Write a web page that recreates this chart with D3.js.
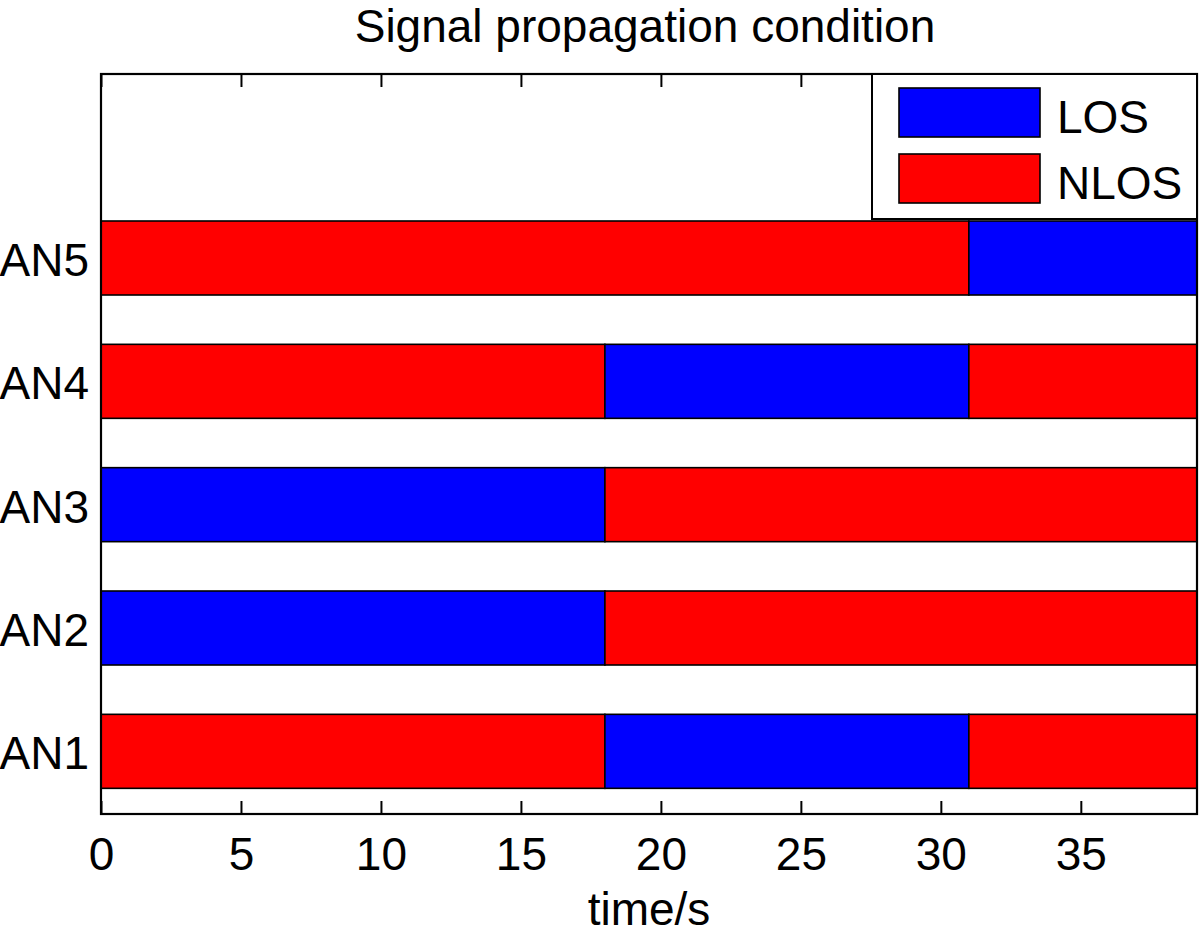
<!DOCTYPE html>
<html>
<head>
<meta charset="utf-8">
<script src="https://cdn.jsdelivr.net/npm/d3@7"></script>
<style>
  html, body { margin: 0; padding: 0; background: #fff; }
  text { font-family: "Liberation Sans", Arial, Helvetica, sans-serif; fill: #000; }
</style>
</head>
<body>
<svg id="chart" width="1200" height="936"></svg>
<script>
// ---- data ----
const nodes = ["AN1", "AN2", "AN3", "AN4", "AN5"];
const segmentStarts = [[0, 18, 31], [0, 18], [0, 18], [0, 18, 31], [0, 31]];
const segmentStates = [["NLOS", "LOS", "NLOS"], ["LOS", "NLOS"], ["LOS", "NLOS"], ["NLOS", "LOS", "NLOS"], ["NLOS", "LOS"]];
const endTime = 39.15;
const xTicks = [0, 5, 10, 15, 20, 25, 30, 35];
const legendLabels = ["LOS", "NLOS"];
const stateColors = { LOS: "#0000ff", NLOS: "#ff0000" };

// ---- layout ----
const L = 101, R = 1197, T = 74, B = 814;
const svg = d3.select("#chart");

const x = d3.scaleLinear().domain([0, endTime]).range([L, R]);
const y = d3.scaleLinear().domain([0.5, 6.5]).range([B, T]);
const barH = 0.6;

// segments
const segs = [];
nodes.forEach((n, i) => {
  const starts = segmentStarts[i];
  starts.forEach((s, j) => {
    const e = j + 1 < starts.length ? starts[j + 1] : endTime;
    segs.push({ idx: i + 1, start: s, end: e, state: segmentStates[i][j] });
  });
});

svg.append("g").selectAll("rect").data(segs).join("rect")
  .attr("x", d => x(d.start))
  .attr("y", d => y(d.idx + barH / 2) - 1)
  .attr("width", d => x(d.end) - x(d.start))
  .attr("height", d => y(d.idx - barH / 2) - y(d.idx + barH / 2))
  .attr("fill", d => stateColors[d.state])
  .attr("stroke", "#000")
  .attr("stroke-width", 1.6);

// axes
const fs = 46;
const xAxis = svg.append("g").attr("transform", `translate(0,${B})`)
  .call(d3.axisBottom(x).tickValues(xTicks).tickSize(-13).tickPadding(0).tickFormat(d3.format("d")));
xAxis.select(".domain").remove();
xAxis.selectAll("line").attr("stroke", "#000").attr("stroke-width", 2);
xAxis.selectAll("text").attr("font-size", fs).attr("dy", null).attr("y", 56);

const xTop = svg.append("g").attr("transform", `translate(0,${T})`)
  .call(d3.axisTop(x).tickValues(xTicks).tickSize(-13).tickFormat(""));
xTop.select(".domain").remove();
xTop.selectAll("line").attr("stroke", "#000").attr("stroke-width", 2);

const yAxis = svg.append("g").attr("transform", `translate(${L},0)`)
  .call(d3.axisLeft(y).tickValues(d3.range(1, nodes.length + 1)).tickSize(0).tickPadding(12)
    .tickFormat(d => nodes[d - 1]));
yAxis.select(".domain").remove();
yAxis.selectAll("text").attr("font-size", fs).attr("dy", "0.36em");

// frame
svg.append("rect").attr("x", L).attr("y", T).attr("width", R - L).attr("height", B - T)
  .attr("fill", "none").attr("stroke", "#000").attr("stroke-width", 2.2);

// legend
const lg = svg.append("g");
lg.append("rect").attr("x", 872).attr("y", T).attr("width", R - 872).attr("height", 145)
  .attr("fill", "#fff").attr("stroke", "#000").attr("stroke-width", 2);
legendLabels.forEach((lab, i) => {
  const yy = 88 + i * 66;
  lg.append("rect").attr("x", 899).attr("y", yy).attr("width", 141).attr("height", 49)
    .attr("fill", stateColors[lab]).attr("stroke", "#000").attr("stroke-width", 1.6);
  lg.append("text").attr("x", 1057).attr("y", yy + 45).attr("font-size", fs).text(lab);
});

// titles
svg.append("text").attr("x", 645).attr("y", 42).attr("text-anchor", "middle")
  .attr("font-size", 46).text("Signal propagation condition");
svg.append("text").attr("x", 649).attr("y", 925).attr("text-anchor", "middle")
  .attr("font-size", fs).text("time/s");
</script>
</body>
</html>
